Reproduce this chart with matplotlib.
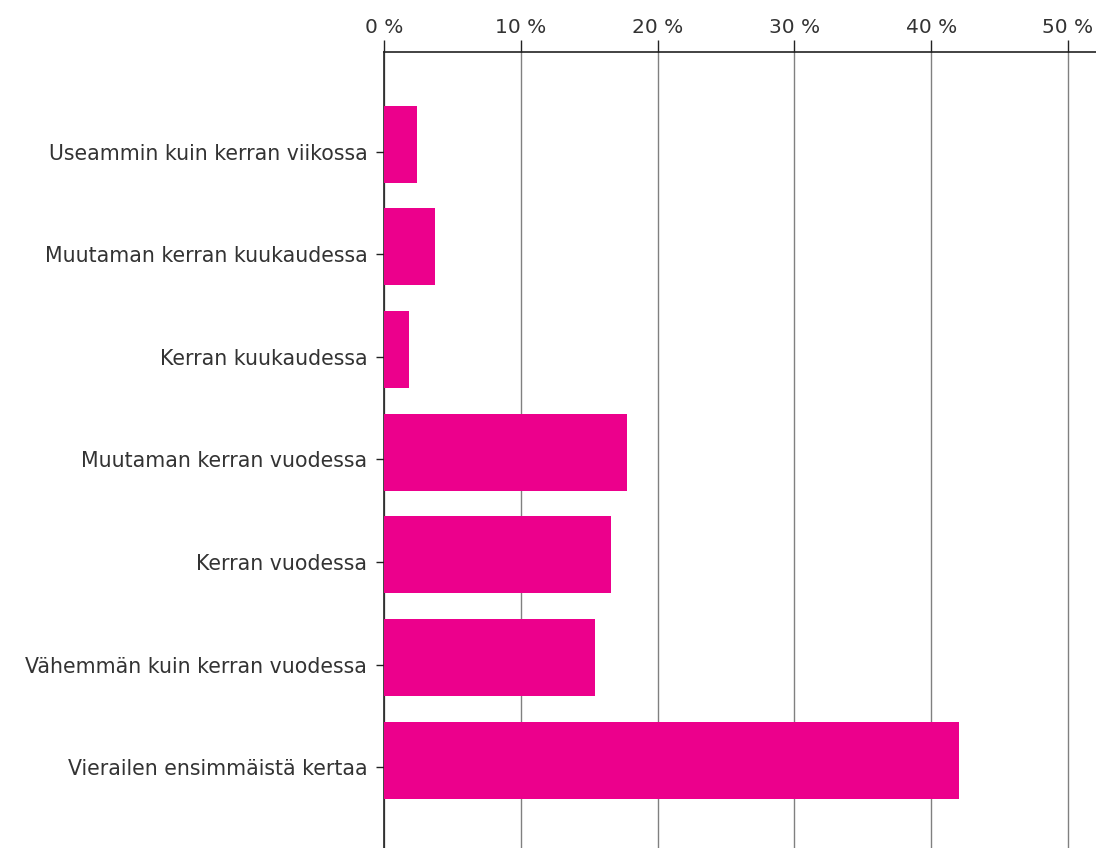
import matplotlib
matplotlib.use('Agg')
import matplotlib.pyplot as plt

categories = [
    'Useammin kuin kerran viikossa',
    'Muutaman kerran kuukaudessa',
    'Kerran kuukaudessa',
    'Muutaman kerran vuodessa',
    'Kerran vuodessa',
    'Vähemmän kuin kerran vuodessa',
    'Vierailen ensimmäistä kertaa',
]
shares = [2.4, 3.7, 1.8, 17.8, 16.6, 15.4, 42.0]
xticks = [0, 10, 20, 30, 40, 50]

plt.rcParams['font.family'] = ['DejaVu Sans']

fig = plt.figure(figsize=(10.96, 8.48), dpi=100)
ax = fig.add_axes([384 / 1096, 0, 1 - 384 / 1096, 1 - 52 / 848])

pos = list(range(len(categories)))
ax.barh(pos, shares, height=0.75, color='#ec008c', zorder=3)

ax.set_xlim(0, 52.05)
ax.set_ylim(6.857, -0.9)
ax.set_xticks(xticks)
ax.set_xticklabels([f'{t} %' for t in xticks])
# category ticks sit a little below the bar centres
ax.set_yticks([p + 0.07 for p in pos])
ax.set_yticklabels(categories)

ax.xaxis.tick_top()
ax.grid(axis='x', color='#808080', linewidth=1, zorder=0)
ax.tick_params(axis='x', length=9, width=1, labelsize=14.5, pad=2,
               color='#222222', labelcolor='#333333')
ax.tick_params(axis='y', length=6, width=1, labelsize=14.8, pad=6,
               color='#222222', labelcolor='#333333')

for side in ['right', 'bottom']:
    ax.spines[side].set_visible(False)
for side in ['left', 'top']:
    ax.spines[side].set_color('#222222')
    ax.spines[side].set_linewidth(1.2)

fig.savefig('out.png', dpi=100)
